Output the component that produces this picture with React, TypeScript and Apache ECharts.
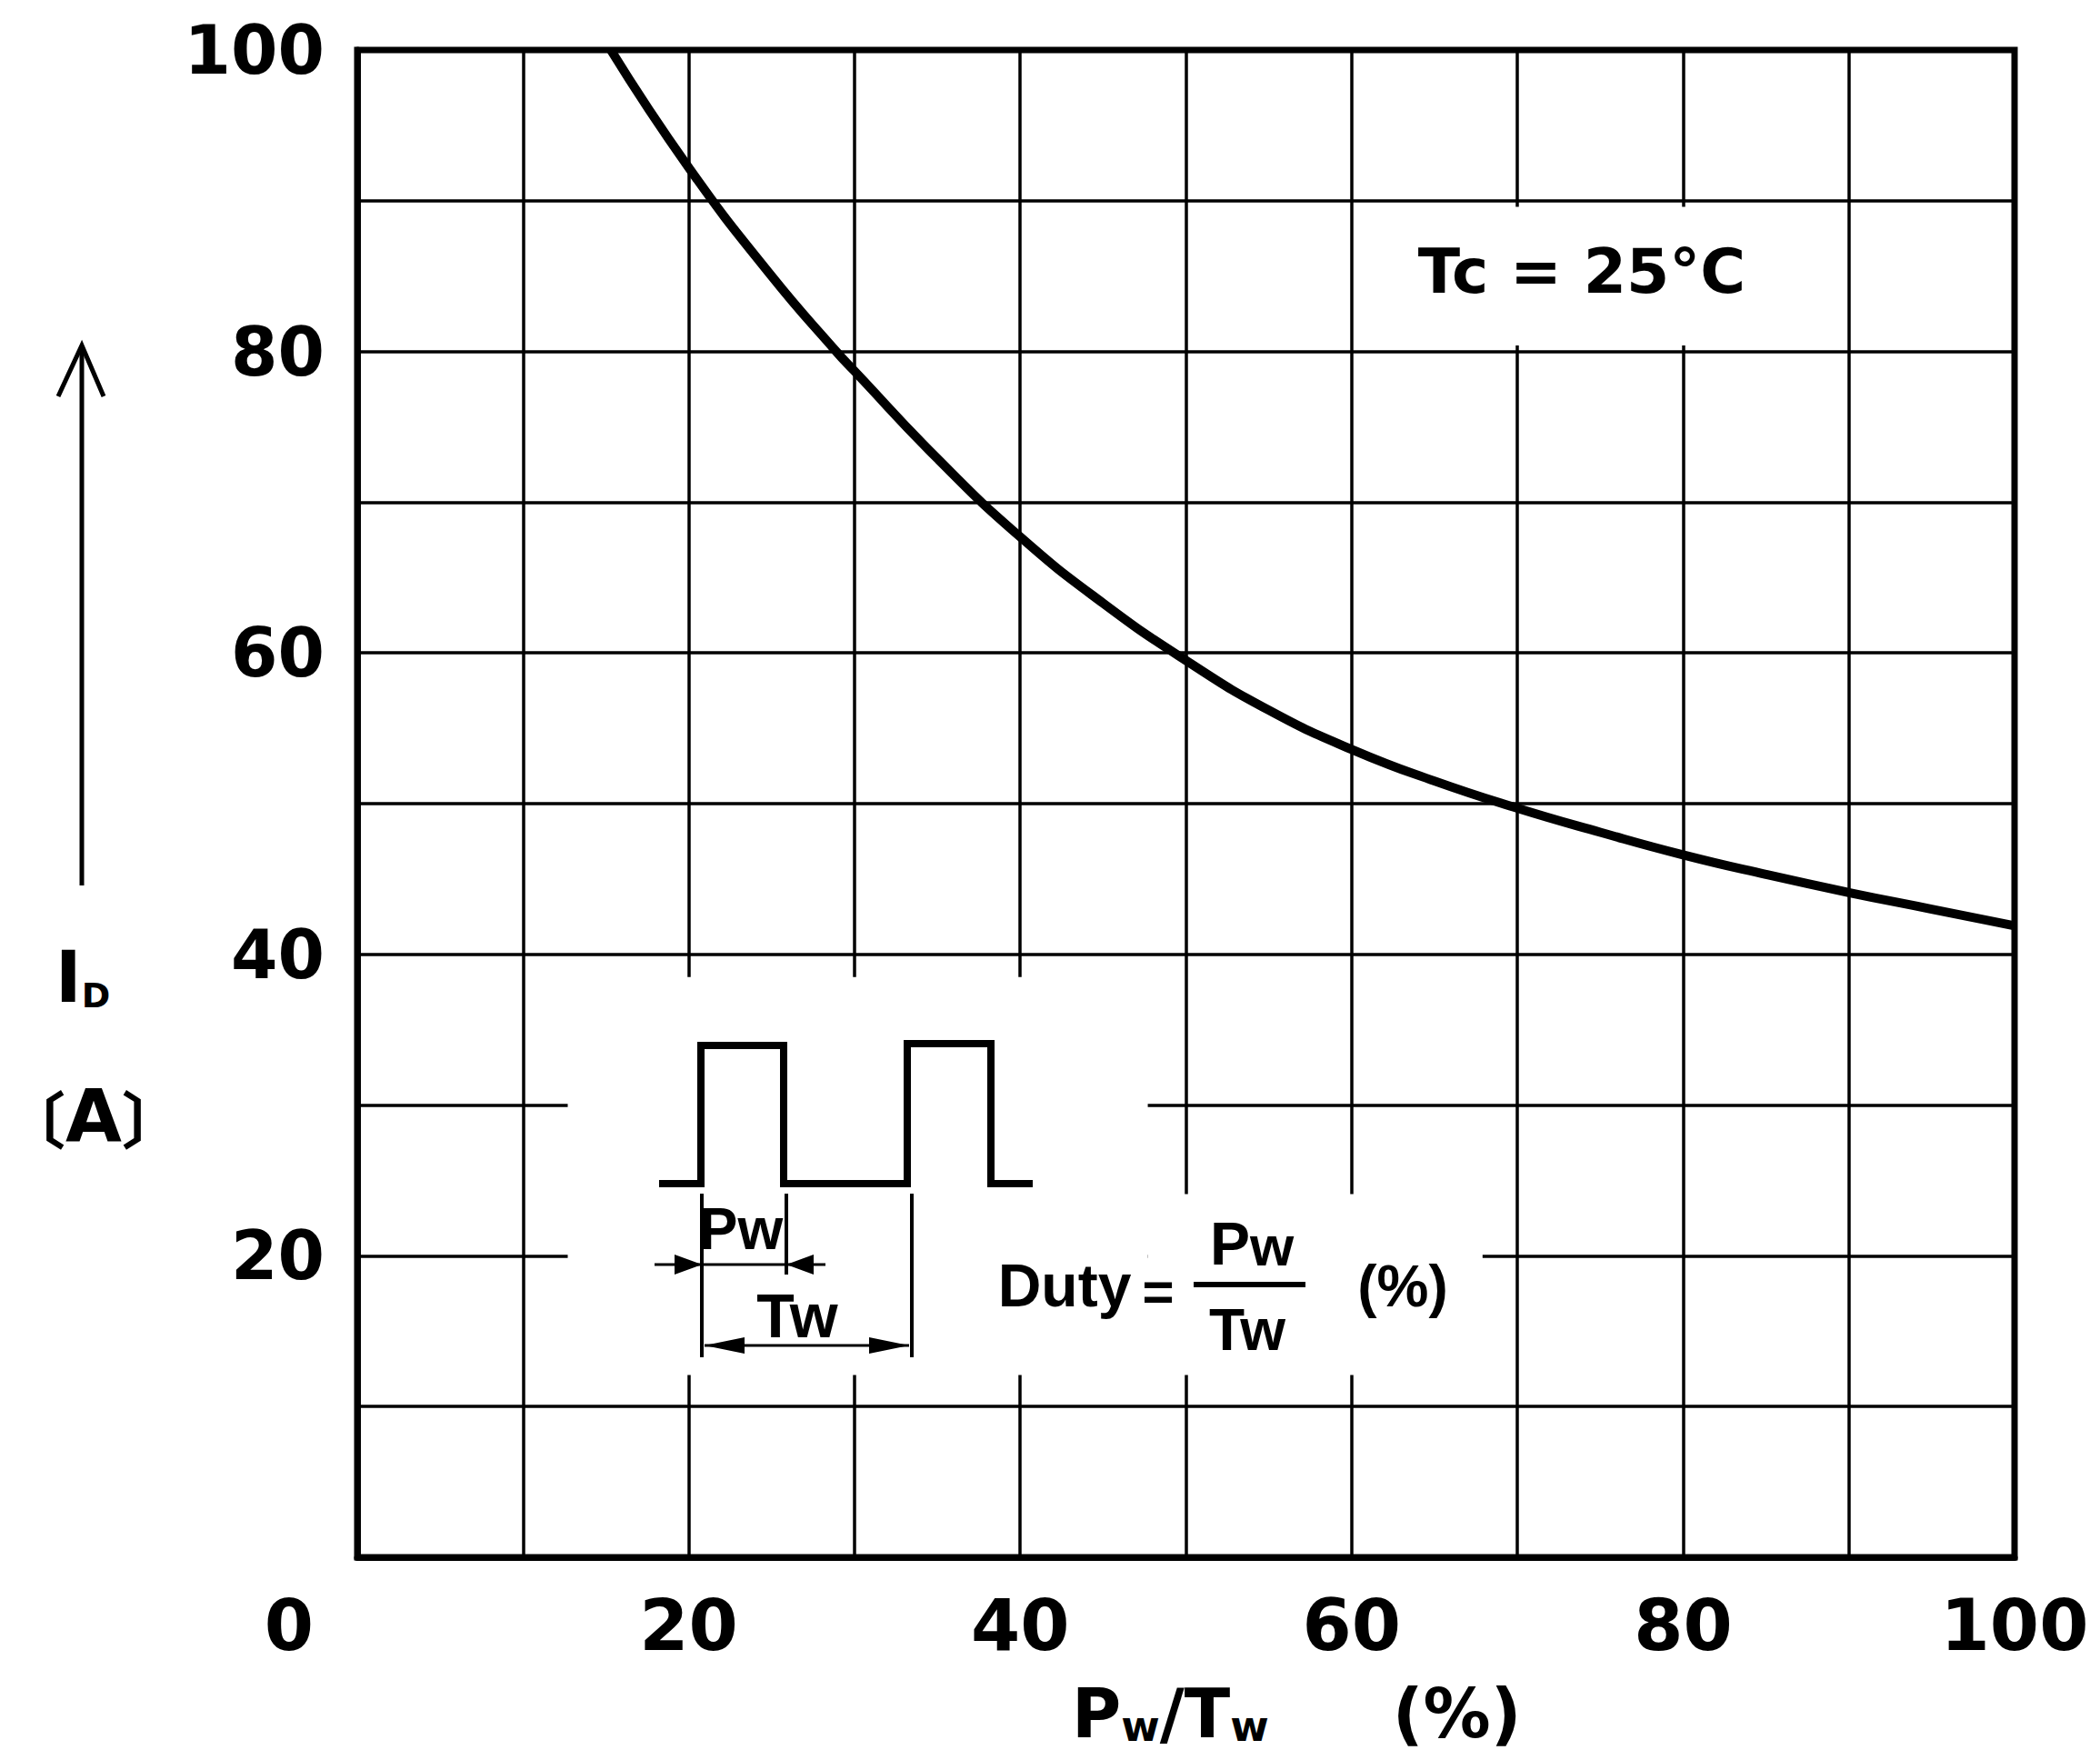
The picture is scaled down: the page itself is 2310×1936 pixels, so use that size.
import React, { useEffect, useRef } from "react";
import * as echarts from "echarts";

// Drain current derating vs. pulse duty (Tc = 25°C)
const dutyPercent = [15.3, 20, 25, 28.9, 30, 35, 40, 45, 50, 55, 60, 65, 70, 75, 80, 85, 90, 95, 100];
const drainCurrent = [100, 92.2, 85.0, 80.0, 78.7, 72.9, 67.7, 63.3, 59.5, 56.2, 53.6, 51.5, 49.7, 48.1, 46.6, 45.3, 44.1, 43.0, 41.9];

const xTickLabels = [0, 20, 40, 60, 80, 100];
const yTickLabels = [20, 40, 60, 80, 100];

// Cells of the grid kept blank behind the inset notes: [[x1, y1], [x2, y2]]
const blankAreas = [
  [[12.7, 12.1], [47.7, 38.5]],
  [[47.7, 12.1], [67.9, 24.1]],
  [[60.4, 80.4], [89.6, 89.6]],
];

const W = 2310;
const H = 1936;
const GRID = { left: 393, right: 94, top: 55, bottom: 223 };

const INK = "#000";
const SANS = "DejaVu Sans";
const LIB = "Liberation Sans";

function arrowHead(tipX: number, tipY: number, dir: number, len: number, hw: number) {
  return {
    type: "polygon",
    shape: {
      points: [
        [tipX, tipY],
        [tipX - dir * len, tipY - hw],
        [tipX - dir * len, tipY + hw],
      ],
    },
    style: { fill: INK },
  };
}

function seg(x1: number, y1: number, x2: number, y2: number, w: number) {
  return {
    type: "line",
    shape: { x1, y1, x2, y2 },
    style: { stroke: INK, lineWidth: w, lineCap: "butt" },
  };
}

function label(text: string, x: number, y: number, size: number, family = LIB, extra: any = {}) {
  return {
    type: "text",
    x,
    y,
    style: {
      text,
      fill: INK,
      font: `bold ${size}px "${family}"`,
      align: "center",
      verticalAlign: "middle",
      ...extra,
    },
  };
}

function buildGraphics() {
  const g: any[] = [];

  // Y-axis quantity: upward arrow, I_D and unit
  g.push(seg(90, 974, 90, 382, 5));
  g.push({
    type: "polyline",
    shape: { points: [[64, 436], [90, 380], [114, 436]] },
    style: { stroke: INK, lineWidth: 5, fill: null },
  });
  g.push({
    type: "text",
    x: 91,
    y: 1082,
    style: {
      text: "{m|I}{s|D}",
      align: "center",
      verticalAlign: "middle",
      rich: {
        m: { font: `bold 78px "${SANS}"`, fill: INK, lineHeight: 64, verticalAlign: "bottom" },
        s: { font: `bold 38px "${SANS}"`, fill: INK, lineHeight: 28, verticalAlign: "bottom" },
      },
    },
  });
  g.push({
    type: "text",
    x: 4,
    y: 1228,
    style: {
      text: "{b|〔}{a|A}{b|〕}",
      align: "left",
      verticalAlign: "middle",
      rich: {
        b: { font: `bold 68px "Noto Sans CJK JP"`, fill: INK, lineHeight: 70 },
        a: { font: `bold 80px "${SANS}"`, fill: INK, lineHeight: 70 },
      },
    },
  });

  // X-axis quantity
  g.push({
    type: "text",
    x: 1179,
    y: 1892,
    style: {
      text: "{m|P}{s|w}{m|/T}{s|w}{g|}{m|(%)}",
      align: "left",
      verticalAlign: "middle",
      rich: {
        m: { font: `bold 74px "${SANS}"`, fill: INK, lineHeight: 60, verticalAlign: "bottom" },
        s: { font: `bold 46px "${SANS}"`, fill: INK, lineHeight: 22, verticalAlign: "bottom" },
        g: { width: 136, lineHeight: 60 },
      },
    },
  });

  // Case temperature note
  g.push(label("Tc = 25°C", 1740, 298, 68, SANS));

  // Pulse train sketch
  g.push({
    type: "polyline",
    shape: {
      points: [
        [725, 1302], [771, 1302], [771, 1150], [862, 1150], [862, 1302],
        [998, 1302], [998, 1148], [1090, 1148], [1090, 1302], [1136, 1302],
      ],
    },
    style: { stroke: INK, lineWidth: 8, fill: null, lineJoin: "miter" },
  });

  // Dimension lines for Pw and Tw
  g.push(seg(772, 1313, 772, 1493, 4));
  g.push(seg(865, 1313, 865, 1402, 4));
  g.push(seg(1003, 1313, 1003, 1493, 4));
  g.push(seg(720, 1391, 908, 1391, 3));
  g.push(arrowHead(772, 1391, 1, 30, 11));
  g.push(arrowHead(865, 1391, -1, 30, 11));
  g.push(seg(775, 1480, 1000, 1480, 3));
  g.push(arrowHead(775, 1480, -1, 44, 9));
  g.push(arrowHead(1000, 1480, 1, 44, 9));
  g.push(label("Pw", 815, 1352, 64));
  g.push(label("Tw", 877, 1447, 68));

  // Duty definition
  g.push(label("Duty", 1171, 1414, 66));
  g.push(label("=", 1274, 1420, 60));
  g.push(seg(1313, 1413, 1436, 1413, 6));
  g.push({
    type: "text",
    x: 1377,
    y: 1366,
    style: {
      text: "{m|P}{s|w}",
      align: "center",
      verticalAlign: "middle",
      rich: {
        m: { font: `bold 66px "${LIB}"`, fill: INK, lineHeight: 70, verticalAlign: "bottom" },
        s: { font: `bold 62px "${LIB}"`, fill: INK, lineHeight: 50, verticalAlign: "bottom" },
      },
    },
  });
  g.push(label("Tw", 1372, 1463, 64));
  g.push(label("(%)", 1543, 1415, 64));

  return g.map((e) => ({ ...e, z: 100 }));
}

export default function App() {
  const ref = useRef<HTMLDivElement>(null);

  useEffect(() => {
    if (!ref.current) return;
    const chart = echarts.init(ref.current, undefined, { renderer: "svg", width: W, height: H });

    const xLabelFont = { color: INK, fontFamily: SANS, fontWeight: "bold" as const, fontSize: 78 };
    const yLabelFont = { color: INK, fontFamily: SANS, fontWeight: "bold" as const, fontSize: 74 };

    const option: any = {
      animation: false,
      backgroundColor: "#fff",
      grid: {
        ...GRID,
        show: true,
        borderColor: INK,
        borderWidth: 7,
        backgroundColor: "transparent",
        containLabel: false,
        outerBoundsMode: "none",
      },
      xAxis: {
        type: "value",
        min: 0,
        max: 100,
        interval: 10,
        axisLine: { show: true, lineStyle: { color: INK, width: 7 } },
        axisTick: { show: false },
        splitLine: { show: true, lineStyle: { color: INK, width: 3.5 } },
        axisLabel: {
          ...xLabelFont,
          margin: 36,
          formatter: (v: number) => {
            if (!xTickLabels.includes(v)) return "";
            return v === 0 ? "{z|0}" : String(v);
          },
          rich: {
            z: { ...xLabelFont, padding: [0, 150, 0, 0] },
          },
        },
      },
      yAxis: {
        type: "value",
        min: 0,
        max: 100,
        interval: 10,
        axisLine: { show: true, lineStyle: { color: INK, width: 7 } },
        axisTick: { show: false },
        splitLine: { show: true, lineStyle: { color: INK, width: 3.5 } },
        axisLabel: {
          ...yLabelFont,
          margin: 36,
          padding: [18, 0, 0, 0],
          formatter: (v: number) => (yTickLabels.includes(v) ? String(v) : ""),
        },
      },
      series: [
        {
          type: "line",
          data: dutyPercent.map((x, i) => [x, drainCurrent[i]]),
          showSymbol: false,
          smooth: 0.5,
          clip: true,
          lineStyle: { color: INK, width: 10 },
          z: 5,
          markArea: {
            silent: true,
            itemStyle: { color: "#fff", borderWidth: 0 },
            label: { show: false },
            data: blankAreas.map(([a, b]) => [{ coord: a }, { coord: b }]),
          },
        },
      ],
      graphic: buildGraphics(),
    };

    chart.setOption(option);
    return () => chart.dispose();
  }, []);

  return (
    <div
      ref={ref}
      style={{ position: "fixed", left: 0, top: 0, width: `${W}px`, height: `${H}px`, background: "#fff" }}
    />
  );
}
